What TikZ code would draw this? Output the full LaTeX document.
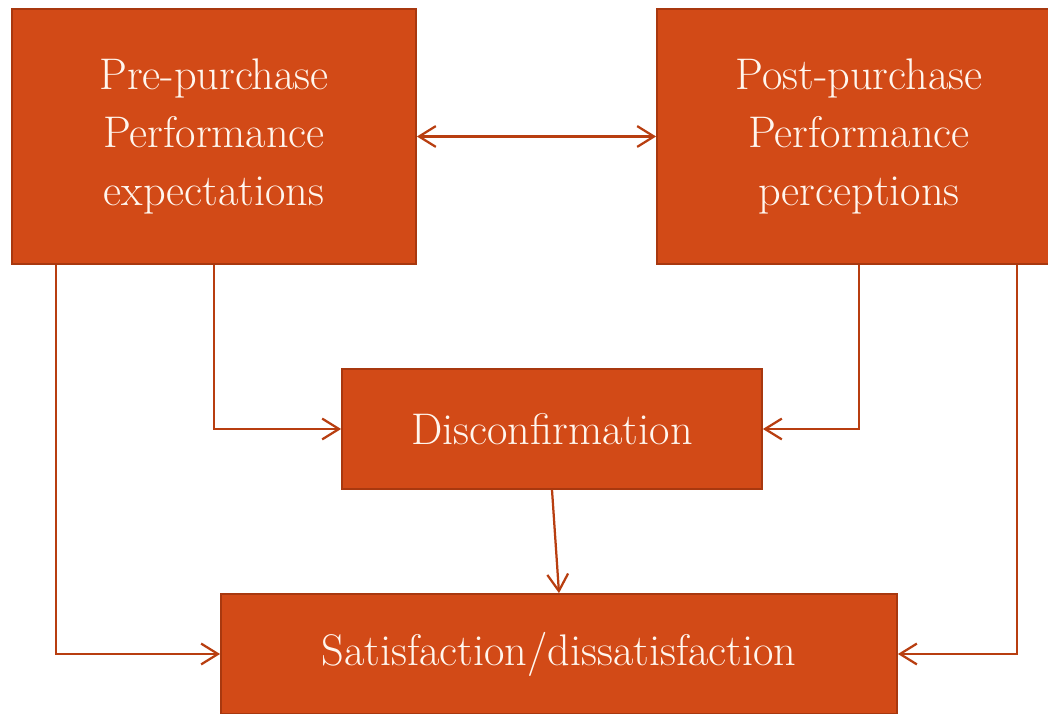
\documentclass[tikz,border=0pt]{standalone}
\usepackage{fontspec}
\usepackage{xcolor}
\usepackage{tikz}
\usetikzlibrary{arrows.meta}

\definecolor{boxfill}{HTML}{D24A17}
\definecolor{boxline}{HTML}{A8380F}
\definecolor{linkcol}{HTML}{B83E10}
\definecolor{textcol}{HTML}{FFF6EE}

\tikzset{
    box/.style={draw=boxline, line width=1.2pt, fill=boxfill, text=textcol,
        align=center, inner sep=0pt,
        font=\fontsize{31.5}{41}\selectfont},
    link/.style={draw=linkcol, line width=1.6pt,
        -{Straight Barb[length=4.2mm,width=5.2mm,line width=1.6pt]}},
}

\begin{document}
\begin{tikzpicture}[x=0.025cm, y=-0.025cm]
        \useasboundingbox (0,0) rectangle (1048,714);
        % boxes
        \node[box, minimum width=10.1cm, minimum height=6.375cm] (pre) at (214,136.5)
            {Pre-purchase\\Performance\\expectations};
        \node[box, minimum width=10.1cm, minimum height=6.375cm] (post) at (859,136.5)
            {Post-purchase\\Performance\\perceptions};
        \node[box, minimum width=10.5cm, minimum height=3cm] (dis) at (552,429)
            {Disconfirmation};
        \node[box, minimum width=16.9cm, minimum height=3cm] (sat) at (559,654)
            {Satisfaction/dissatisfaction};
        % outer leg points
        \coordinate (preleg) at ([xshift=1.125cm]pre.south west);
        \coordinate (postleg) at ([xshift=-1.125cm]post.south east);
        % connectors
        \draw[link, {Straight Barb[length=4.2mm,width=5.2mm,line width=1.6pt]}-{Straight Barb[length=4.2mm,width=5.2mm,line width=1.6pt]}] (pre.east) -- (post.west);
        \draw[link] (pre.south) |- (dis.west);
        \draw[link] (post.south) |- (dis.east);
        \draw[link] (dis.south) -- (sat.north);
        \draw[link] (preleg) |- (sat.west);
        \draw[link] (postleg) |- (sat.east);
    \end{tikzpicture}
\end{document}
